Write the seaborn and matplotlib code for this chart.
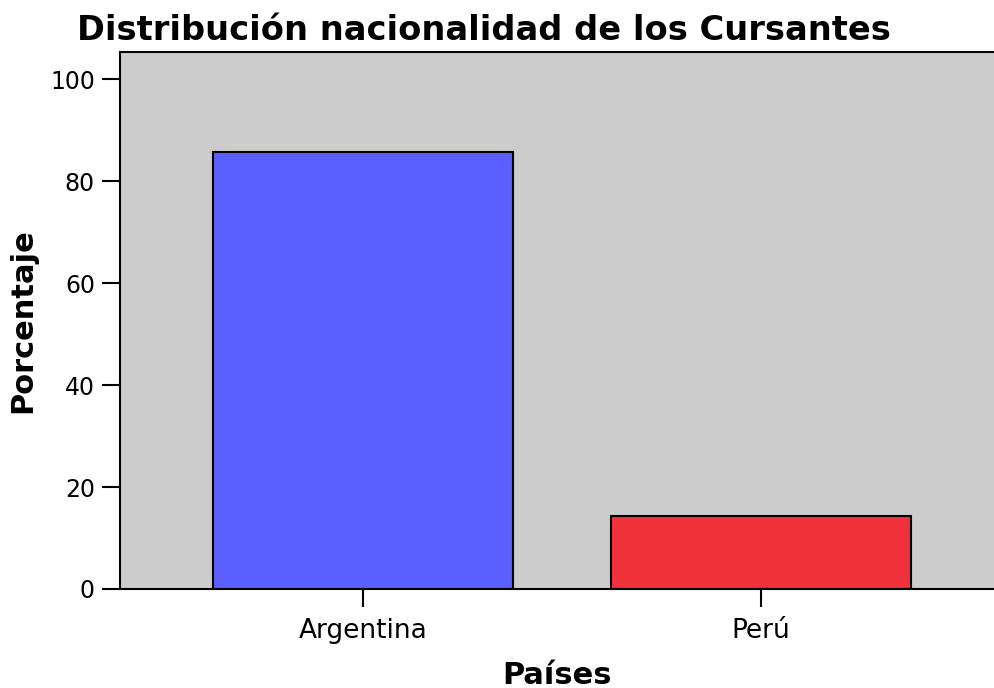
import matplotlib
matplotlib.use("Agg")
import matplotlib.pyplot as plt
import pandas as pd
import seaborn as sns

# Data
paises = ["Argentina", "Perú"]
porcentaje = [85.7, 14.3]
colores = ["#5C5FFF", "#F0333B"]

df = pd.DataFrame({"Países": paises, "Porcentaje": porcentaje})

sns.set_style("ticks")
plt.rcParams["font.family"] = ["DejaVu Sans"]
plt.rcParams["text.color"] = "black"
plt.rcParams["axes.labelcolor"] = "black"
plt.rcParams["xtick.color"] = "black"
plt.rcParams["ytick.color"] = "black"

fig = plt.figure(figsize=(9.95, 6.88), dpi=100)
ax = fig.add_axes([0.1206, 0.1439, 0.8794, 0.7805])
ax.set_facecolor("#CCCCCC")

sns.barplot(data=df, x="Países", y="Porcentaje", hue="Países", palette=colores,
            legend=False, width=0.754, edgecolor="black", linewidth=1.5,
            saturation=1, ax=ax)

ax.set_ylim(0, 105.3)
ax.set_xlim(-0.611, 1.588)
ax.set_yticks([0, 20, 40, 60, 80, 100])

for s in ax.spines.values():
    s.set_linewidth(1.5)
    s.set_color("black")
ax.spines["right"].set_visible(False)

ax.tick_params(axis="both", length=13, width=1.5, color="black")
ax.tick_params(axis="y", labelsize=17, pad=5)
ax.tick_params(axis="x", labelsize=19, pad=8)

ax.set_xlabel("Países", fontsize=22, fontweight="bold", labelpad=12)
ax.set_ylabel("Porcentaje", fontsize=22, fontweight="bold", labelpad=9)
fig.text(0.486, 0.955, "Distribución nacionalidad de los Cursantes",
         ha="center", va="center", fontsize=24.2, fontweight="bold")

fig.savefig("out.png", dpi=100)
